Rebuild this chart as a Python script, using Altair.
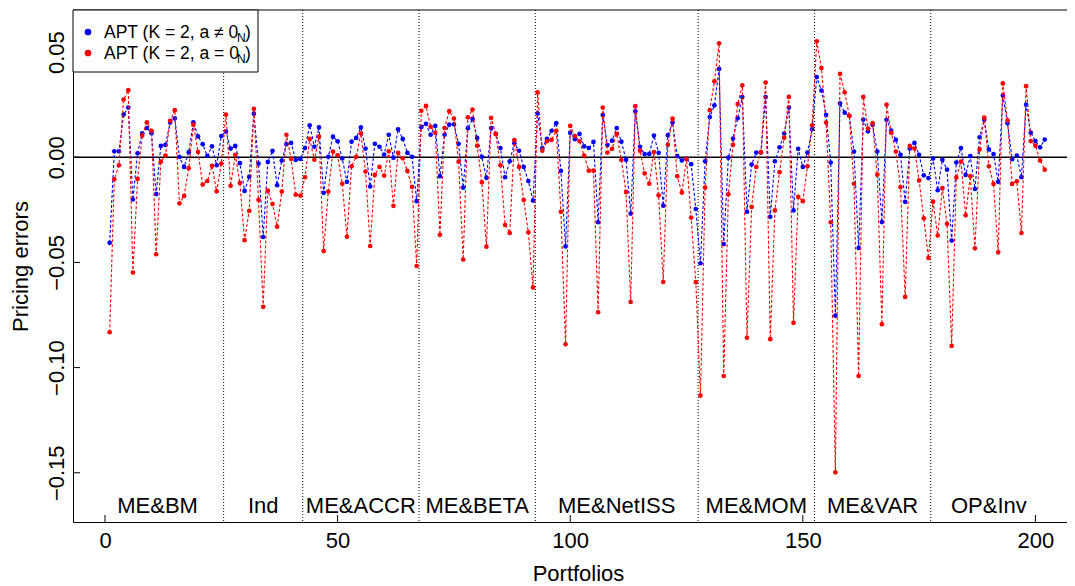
import altair as alt
import pandas as pd

# ---------------- data ----------------
portfolio = list(range(1, 203))

blue = [
    # ME&BM (1-25)
    -0.0407, 0.0028, 0.0028, 0.0203, 0.0236, -0.0201, 0.0019, 0.0114, 0.0139, 0.0114,
    -0.0175, 0.0054, 0.0059, 0.0165, 0.0185, 0.0002, -0.0046, 0.0024, 0.0166, 0.0099,
    0.0062, 0.0006, 0.0052, -0.0038, 0.0101,
    # Ind (26-42)
    0.0122, 0.0041, 0.0054, -0.0028, -0.0160, -0.0093, 0.0207, -0.0030, -0.0379, -0.0022,
    0.0031, -0.0133, -0.0016, 0.0062, 0.0068, -0.0013, -0.0008,
    # ME&ACCR (43-67)
    0.0044, 0.0152, 0.0050, 0.0142, -0.0169, 0.0002, 0.0098, 0.0076, -0.0006, -0.0117,
    0.0074, 0.0092, 0.0142, 0.0041, -0.0139, 0.0064, 0.0050, 0.0013, 0.0107, -0.0002,
    0.0133, 0.0087, 0.0021, 0.0002, -0.0209,
    # ME&BETA (68-92)
    0.0144, 0.0159, 0.0107, 0.0149, -0.0090, 0.0107, 0.0155, 0.0157, 0.0064, -0.0144,
    0.0138, 0.0182, 0.0092, 0.0002, -0.0098, 0.0139, 0.0111, 0.0044, -0.0095, -0.0019,
    0.0067, 0.0031, -0.0046, -0.0113, -0.0206,
    # ME&NetISS (93-127)
    0.0209, 0.0043, 0.0087, 0.0126, 0.0162, -0.0065, -0.0424, 0.0117, 0.0086, 0.0111,
    0.0052, 0.0044, 0.0073, -0.0309, 0.0201, 0.0058, 0.0079, 0.0139, 0.0074, -0.0012,
    -0.0268, 0.0218, 0.0050, 0.0015, 0.0016, 0.0103, 0.0021, -0.0230, 0.0105, 0.0166,
    0.0005, -0.0015, -0.0006, -0.0033, -0.0246,
    # ME&MOM (128-152)
    -0.0504, -0.0019, 0.0191, 0.0247, 0.0420, -0.0413, -0.0002, 0.0089, 0.0185, 0.0286,
    -0.0259, -0.0035, 0.0022, 0.0022, 0.0286, -0.0283, -0.0019, 0.0047, 0.0113, 0.0236,
    -0.0253, 0.0040, -0.0046, 0.0022, 0.0133,
    # ME&VAR (153-177)
    0.0381, 0.0317, 0.0201, -0.0025, -0.0753, 0.0256, 0.0212, 0.0197, 0.0027, -0.0431,
    0.0179, 0.0123, 0.0154, 0.0027, -0.0308, 0.0178, 0.0127, 0.0083, 0.0012, -0.0212,
    0.0041, 0.0068, 0.0012, -0.0086, -0.0099,
    # OP&Inv (178-202)
    -0.0006, -0.0157, -0.0012, -0.0059, -0.0396, -0.0025, 0.0044, -0.0084, 0.0005, -0.0151,
    0.0095, 0.0178, 0.0037, 0.0015, -0.0117, 0.0293, 0.0162, -0.0009, 0.0008, -0.0095,
    0.0250, 0.0117, 0.0077, 0.0047, 0.0084,
]

red = [
    # ME&BM (1-25)
    -0.0832, -0.0105, -0.0038, 0.0274, 0.0319, -0.0548, -0.0103, 0.0103, 0.0166, 0.0126,
    -0.0461, -0.0021, 0.0008, 0.0173, 0.0224, -0.0219, -0.0184, -0.0052, 0.0155, 0.0025,
    -0.0130, -0.0113, -0.0041, -0.0162, -0.0030,
    # Ind (26-42)
    0.0203, -0.0136, 0.0012, -0.0122, -0.0394, -0.0255, 0.0230, -0.0203, -0.0711, -0.0159,
    -0.0222, -0.0330, -0.0163, 0.0107, -0.0008, -0.0178, -0.0182,
    # ME&ACCR (43-67)
    -0.0095, 0.0087, -0.0012, 0.0099, -0.0446, -0.0163, 0.0027, 0.0009, -0.0126, -0.0378,
    -0.0043, 0.0002, 0.0114, -0.0068, -0.0422, -0.0084, -0.0046, -0.0087, 0.0028, -0.0231,
    0.0021, -0.0005, -0.0065, -0.0141, -0.0517,
    # ME&BETA (68-92)
    0.0221, 0.0244, 0.0145, 0.0116, -0.0369, 0.0139, 0.0219, 0.0184, -0.0021, -0.0486,
    0.0190, 0.0227, 0.0055, -0.0119, -0.0425, 0.0187, 0.0111, -0.0038, -0.0322, -0.0360,
    0.0081, -0.0046, -0.0203, -0.0357, -0.0619,
    # ME&NetISS (93-127)
    0.0308, 0.0031, 0.0076, 0.0083, 0.0126, -0.0259, -0.0889, 0.0149, 0.0101, 0.0076,
    0.0008, -0.0064, -0.0064, -0.0737, 0.0236, 0.0022, 0.0040, 0.0111, -0.0013, -0.0165,
    -0.0688, 0.0243, 0.0031, -0.0077, -0.0126, 0.0025, -0.0181, -0.0593, 0.0059, 0.0184,
    -0.0090, -0.0168, -0.0008, -0.0287, -0.0594,
    # ME&MOM (128-152)
    -0.1133, -0.0144, 0.0224, 0.0361, 0.0542, -0.1040, -0.0176, 0.0059, 0.0253, 0.0342,
    -0.0858, -0.0236, -0.0046, 0.0024, 0.0355, -0.0865, -0.0253, -0.0071, 0.0093, 0.0287,
    -0.0787, -0.0188, -0.0209, -0.0043, 0.0152,
    # ME&VAR (153-177)
    0.0551, 0.0424, 0.0165, -0.0309, -0.1498, 0.0396, 0.0309, 0.0197, -0.0126, -0.1040,
    0.0287, 0.0136, 0.0162, -0.0083, -0.0794, 0.0250, 0.0117, 0.0027, -0.0142, -0.0664,
    0.0054, 0.0041, -0.0110, -0.0290, -0.0479,
    # OP&Inv (178-202)
    -0.0211, -0.0372, -0.0147, -0.0317, -0.0897, -0.0096, -0.0021, -0.0276, -0.0090, -0.0433,
    0.0037, 0.0188, -0.0043, -0.0127, -0.0452, 0.0351, 0.0175, -0.0127, -0.0114, -0.0360,
    0.0338, 0.0077, 0.0055, -0.0015, -0.0059,
]

boundaries = [25.5, 42.5, 67.5, 92.5, 127.5, 152.5, 177.5]
groups = ["ME&BM", "Ind", "ME&ACCR", "ME&BETA", "ME&NetISS", "ME&MOM", "ME&VAR", "OP&Inv"]
group_pos = [11.3, 34, 55, 80, 110, 140, 165, 190]
x_ticks = [0, 50, 100, 150, 200]
y_ticks = [-0.15, -0.10, -0.05, 0.00, 0.05]
legend_labels = ["APT (K = 2, a \u2260 0", "APT (K = 2, a = 0"]
legend_sub = "N"
colors = ["#0000FF", "#FF0000"]

# ---------------- layout ----------------
W, H = 994, 512
XDOM = [-6.88, 206.79]
YDOM = [-0.1734, 0.0700]
FONT = "Liberation Sans"

df = pd.DataFrame({"idx": portfolio, "blue": blue, "red": red})
sep_df = pd.DataFrame({"b": boundaries})
grp_df = pd.DataFrame({"pos": group_pos, "name": groups})
xt_df = pd.DataFrame({"t": x_ticks})
yt_df = pd.DataFrame({"t": y_ticks})
one = pd.DataFrame({"a": [0]})

xs = alt.Scale(domain=XDOM, nice=False, zero=False)
ys = alt.Scale(domain=YDOM, nice=False, zero=False)

x_axis = alt.Axis(
    values=x_ticks, ticks=False, grid=False, labelFontSize=22, labelFont=FONT,
    labelColor="black", labelPadding=8, labelFlush=False, domainColor="black",
    domainWidth=1, title="Portfolios", titleFont=FONT, titleFontSize=22,
    titleFontWeight="normal", titleColor="black", titleX=505, titleY=58,
    titleAlign="center", titleBaseline="alphabetic",
)
y_axis = alt.Axis(
    values=y_ticks, format=".2f", ticks=False, grid=False, labelFontSize=22,
    labelFont=FONT, labelColor="black", labelAngle=270, labelAlign="center",
    labelBaseline="alphabetic", labelPadding=10, labelFlush=False,
    labelOverlap=False, domainColor="black", domainWidth=1,
    title="Pricing errors", titleFont=FONT, titleFontSize=22,
    titleFontWeight="normal", titleColor="black", titleAngle=270,
    titleX=-46, titleY=256, titleAlign="center", titleBaseline="alphabetic",
)

def X(field):
    return alt.X(field, type="quantitative", scale=xs, axis=x_axis)

def Y(field):
    return alt.Y(field, type="quantitative", scale=ys, axis=y_axis)

layers = []

# section separators
layers.append(
    alt.Chart(sep_df).mark_rule(color="black", strokeDash=[1, 2], strokeWidth=1)
    .encode(x=X("b"), y=alt.value(0), y2=alt.value(H))
)
# zero line
layers.append(
    alt.Chart(one).mark_rule(color="black", strokeWidth=1.3)
    .encode(y=alt.datum(0, scale=ys), x=alt.value(0), x2=alt.value(W))
)
# top border
layers.append(
    alt.Chart(one).mark_rule(color="black", strokeWidth=1)
    .encode(y=alt.value(0), x=alt.value(0), x2=alt.value(W))
)

# series
for field, col in (("blue", colors[0]), ("red", colors[1])):
    layers.append(
        alt.Chart(df).mark_line(color=col, strokeDash=[3, 2], strokeWidth=1.1)
        .encode(x=X("idx"), y=Y(field))
    )
    layers.append(
        alt.Chart(df).mark_circle(color=col, size=22, opacity=1)
        .encode(x=X("idx"), y=Y(field))
    )

# group labels
layers.append(
    alt.Chart(grp_df).mark_text(font=FONT, fontSize=22, align="center",
                                baseline="alphabetic", color="black")
    .encode(x=X("pos"), y=alt.value(H - 9), text="name:N")
)

# inward ticks
layers.append(
    alt.Chart(xt_df).mark_rule(color="black", strokeWidth=1)
    .encode(x=X("t"), y=alt.value(H), y2=alt.value(H - 7))
)
layers.append(
    alt.Chart(yt_df).mark_rule(color="black", strokeWidth=1)
    .encode(y=Y("t"), x=alt.value(0), x2=alt.value(7))
)

# legend box
layers.append(
    alt.Chart(one).mark_rect(fill="white", stroke="black", strokeWidth=1)
    .encode(x=alt.value(0), x2=alt.value(185), y=alt.value(0), y2=alt.value(62))
)
for i, (lab, col) in enumerate(zip(legend_labels, colors)):
    cy = 22 + 21 * i
    layers.append(
        alt.Chart(one).mark_circle(color=col, size=45, opacity=1)
        .encode(x=alt.value(15), y=alt.value(cy))
    )
    layers.append(
        alt.Chart(one).mark_text(font=FONT, fontSize=17.5, align="left",
                                 baseline="alphabetic", color="black")
        .encode(x=alt.value(31), y=alt.value(cy + 6), text=alt.value(lab))
    )
    layers.append(
        alt.Chart(one).mark_text(font=FONT, fontSize=12, align="left",
                                 baseline="alphabetic", color="black")
        .encode(x=alt.value(164), y=alt.value(cy + 10), text=alt.value(legend_sub))
    )
    layers.append(
        alt.Chart(one).mark_text(font=FONT, fontSize=17.5, align="left",
                                 baseline="alphabetic", color="black")
        .encode(x=alt.value(172), y=alt.value(cy + 6), text=alt.value(")"))
    )

chart = (
    alt.layer(*layers)
    .properties(
        width=W, height=H,
        padding={"left": 65, "top": 2, "right": 0, "bottom": 64},
        autosize=alt.AutoSizeParams(type="none"),
        background="white",
    )
    .configure_view(stroke=None)
)

chart.save("out.html", embed_options={"renderer": "svg", "actions": False})
